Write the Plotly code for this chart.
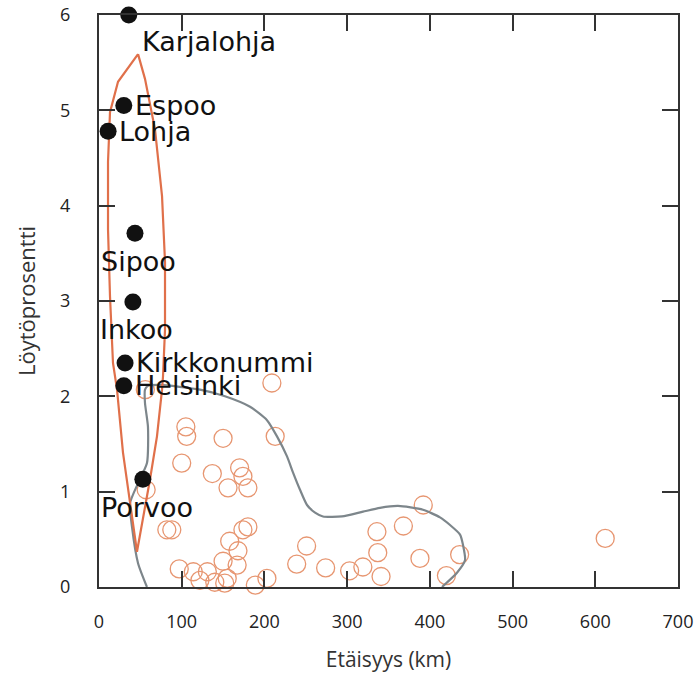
import plotly.graph_objects as go

# Named municipalities (black dots)
town_names = ["Karjalohja", "Espoo", "Lohja", "Sipoo", "Inkoo", "Kirkkonummi", "Helsinki", "Porvoo"]
town_dist = [36, 30, 11, 43.5, 41, 31.5, 30, 53]
town_pct = [6.0, 5.05, 4.78, 3.71, 2.99, 2.35, 2.11, 1.13]
label_side = ["below-right", "right", "right", "below", "below", "right", "right", "below"]

# Other municipalities (open circles)
other_dist = [56, 209, 105, 106, 150, 213, 100, 137, 170, 174, 156, 180, 57,
              82, 88, 174, 180, 158, 168, 150, 167, 97, 114, 131, 122, 140, 155,
              152, 189, 203, 392, 368, 336, 337, 251, 239, 274, 303, 319, 341,
              388, 436, 420, 612]
other_pct = [2.07, 2.14, 1.68, 1.58, 1.56, 1.58, 1.30, 1.19, 1.25, 1.16, 1.04, 1.04, 1.02,
             0.60, 0.60, 0.60, 0.63, 0.48, 0.38, 0.27, 0.23, 0.19, 0.16, 0.16, 0.07, 0.05, 0.09,
             0.04, 0.02, 0.09, 0.86, 0.64, 0.58, 0.36, 0.43, 0.24, 0.20, 0.17, 0.21, 0.11,
             0.30, 0.34, 0.12, 0.51]

# Orange envelope (closed outline)
env_x = [47.2, 55.6, 67.7, 76.2, 79.8, 79.8, 77.4, 76.2, 70.1, 61.7, 45.9,
         29.0, 21.8, 16.9, 13.3, 10.9, 10.9, 13.3, 23.0, 47.2]
env_y = [5.59, 5.33, 4.80, 4.10, 3.41, 2.70, 2.21, 2.07, 1.58, 1.13, 0.37,
         1.41, 2.07, 2.35, 3.05, 3.75, 4.46, 4.98, 5.30, 5.59]

# Gray envelope (open curve)
gray_x = [58.0, 47.2, 39.9, 37.5, 47.2, 58.0, 59.2, 55.6, 55.6, 59.2, 73.8, 122.1, 152.3,
          182.6, 203.1, 215.2, 227.3, 234.6, 243.0, 251.5, 261.2, 270.8, 293.8, 319.2,
          339.7, 361.5, 391.7, 412.3, 424.4, 436.5, 440.1, 442.5, 432.8, 414.7]
gray_y = [0.0, 0.25, 0.63, 0.88, 1.09, 1.30, 1.68, 1.93, 2.07, 2.11, 2.12, 2.07, 2.00,
          1.89, 1.75, 1.58, 1.37, 1.20, 1.02, 0.86, 0.78, 0.74, 0.74, 0.79,
          0.83, 0.85, 0.81, 0.73, 0.65, 0.55, 0.44, 0.28, 0.15, 0.0]

x_ticks = [0, 100, 200, 300, 400, 500, 600, 700]
y_ticks = [0, 1, 2, 3, 4, 5, 6]

fig = go.Figure()

fig.add_trace(go.Scatter(
    x=other_dist, y=other_pct, mode="markers",
    marker=dict(symbol="circle-open", size=18, color="#E79671", line=dict(width=1.3, color="#E79671")),
    cliponaxis=False, showlegend=False, hoverinfo="x+y"))

fig.add_trace(go.Scatter(
    x=gray_x, y=gray_y, mode="lines", line=dict(color="#7D868B", width=2.2, shape="spline", smoothing=0.6),
    showlegend=False, hoverinfo="skip"))

fig.add_trace(go.Scatter(
    x=env_x, y=env_y, mode="lines", line=dict(color="#E0704A", width=2.2),
    showlegend=False, hoverinfo="skip"))

fig.add_trace(go.Scatter(
    x=town_dist, y=town_pct, mode="markers",
    marker=dict(symbol="circle", size=17, color="#111111"),
    cliponaxis=False, showlegend=False, text=town_names, hoverinfo="text+x+y"))

for name, xv, yv, side in zip(town_names, town_dist, town_pct, label_side):
    if side == "right":
        ann = dict(xanchor="left", yanchor="middle", xshift=9, yshift=0)
    elif side == "below-right":
        ann = dict(xanchor="left", yanchor="middle", xshift=11, yshift=-26)
    else:
        ann = dict(xanchor="center", yanchor="middle", xshift=4, yshift=-28)
    fig.add_annotation(x=xv, y=yv, text=name, showarrow=False,
                       font=dict(family="DejaVu Sans, sans-serif", size=27, color="#111111"),
                       **ann)

axis_common = dict(
    showline=True, linecolor="#333333", linewidth=2, mirror="ticks",
    ticks="inside", ticklen=16, tickwidth=2, tickcolor="#333333",
    showgrid=False, zeroline=False, automargin=False, ticklabeloverflow="allow",
    tickfont=dict(family="Open Sans, sans-serif", size=18, color="#222222"),
)

fig.update_xaxes(range=[0, 700], tickvals=x_ticks, ticktext=[str(v) for v in x_ticks],
                 title=dict(text="Etäisyys (km)", font=dict(family="Open Sans, sans-serif", size=21, color="#333333"), standoff=21),
                 ticklabelstandoff=17, **axis_common)
fig.update_yaxes(range=[0, 6], tickvals=y_ticks, ticktext=[str(v) for v in y_ticks],
                 title=dict(text="Löytöprosentti", font=dict(family="Open Sans, sans-serif", size=22, color="#333333"), standoff=18),
                 ticklabelstandoff=23, **axis_common)

fig.update_layout(
    width=697, height=673,
    margin=dict(l=99, r=19, t=15, b=86),
    paper_bgcolor="white", plot_bgcolor="white",
)

# Remove the default 8 px page margin so the figure fills the window exactly.
fig.write_html("out.html", config={"displayModeBar": False},
               post_script="document.body.style.margin='0px';")
